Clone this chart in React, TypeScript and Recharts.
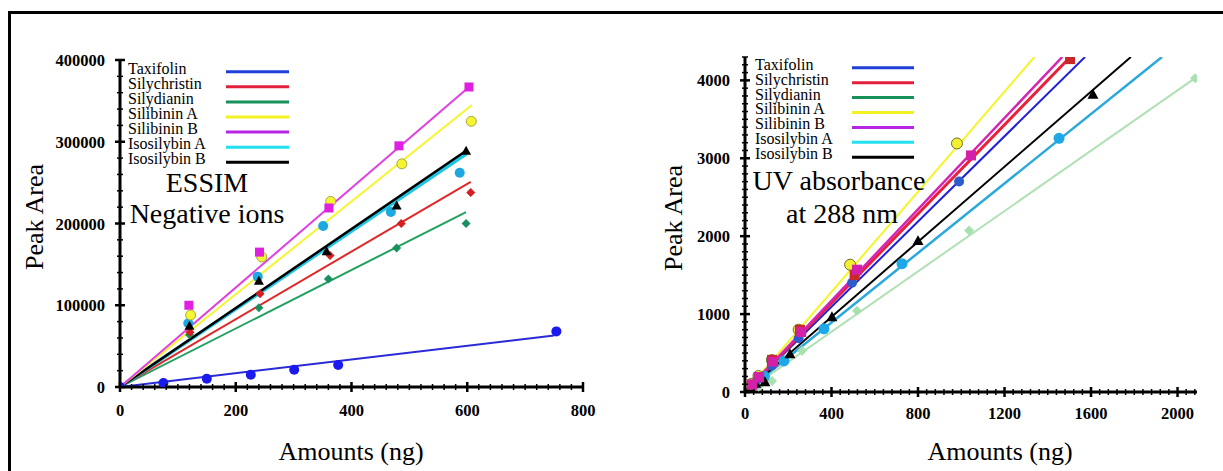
import { ComposedChart, Line, Scatter, XAxis, YAxis } from "recharts";

const FONT = "'Liberation Serif', 'DejaVu Serif', 'Noto Serif', serif";

const compounds = [
  "Taxifolin",
  "Silychristin",
  "Silydianin",
  "Silibinin A",
  "Silibinin B",
  "Isosilybin A",
  "Isosilybin B",
];
const legendColors = ["#1f3fd6", "#e3203c", "#17905a", "#f2f222", "#b526e6", "#22e0f0", "#000000"];

// ---- ESSIM, negative ions (left panel) ----
const msTaxifolinX = [0, 75, 150, 226, 301, 377, 754];
const msTaxifolinY = [0, 5000, 10000, 15000, 21000, 27000, 68000];
const msSilychristinX = [121, 242, 363, 486, 606];
const msSilychristinY = [67000, 114000, 161000, 200000, 238000];
const msSilydianinX = [120, 240, 360, 478, 598];
const msSilydianinY = [64000, 97000, 132000, 170000, 200000];
const msSilibininAX = [122, 245, 364, 487, 607];
const msSilibininAY = [88000, 159000, 227000, 273000, 325000];
const msSilibininBX = [119, 241, 361, 482, 603];
const msSilibininBY = [100000, 165000, 219000, 295000, 367000];
const msIsosilybinAX = [118, 238, 351, 468, 587];
const msIsosilybinAY = [78000, 135000, 197000, 214000, 262000];
const msIsosilybinBX = [120, 240, 357, 478, 598];
const msIsosilybinBY = [75000, 130000, 166000, 222000, 289000];

// fitted lines: [start, end]
const msFitX = [
  [0, 750],
  [0, 606],
  [0, 598],
  [0, 608],
  [0, 603],
  [0, 598],
  [0, 598],
];
const msFitY = [
  [0, 63000],
  [0, 251000],
  [0, 214000],
  [0, 345000],
  [0, 367000],
  [0, 285000],
  [0, 289000],
];

// ---- UV absorbance at 288 nm (right panel) ----
const uvTaxifolinX = [31, 62, 124, 248, 495, 990];
const uvTaxifolinY = [90, 170, 340, 690, 1403, 2703];
const uvSilychristinX = [31, 63, 125, 254, 507, 1503];
const uvSilychristinY = [95, 190, 412, 798, 1500, 4273];
const uvSilydianinX = [63, 125, 264, 518, 1036, 2081];
const uvSilydianinY = [70, 142, 528, 1043, 2072, 4028];
const uvSilibininAX = [31, 62, 124, 248, 486, 980];
const uvSilibininAY = [105, 205, 410, 800, 1634, 3190];
const uvSilibininBX = [33, 65, 130, 260, 518, 1045];
const uvSilibininBY = [95, 190, 390, 770, 1570, 3037];
const uvIsosilybinAX = [45, 90, 180, 365, 726, 1452];
const uvIsosilybinAY = [100, 200, 399, 811, 1647, 3256];
const uvIsosilybinBX = [25, 50, 92, 208, 402, 800, 1609];
const uvIsosilybinBY = [60, 110, 130, 489, 965, 1943, 3822];

const uvFitX = [
  [20, 1572],
  [20, 1504],
  [60, 2081],
  [20, 1338],
  [20, 1467],
  [20, 1928],
  [20, 1784],
];
const uvFitY = [
  [55, 4300],
  [57, 4300],
  [116, 4028],
  [64, 4300],
  [59, 4300],
  [45, 4300],
  [48, 4300],
];

// ticks
const msXMajor = [0, 200, 400, 600, 800];
const msYMajor = [0, 100000, 200000, 300000, 400000];
const uvXMajor = [0, 400, 800, 1200, 1600, 2000];
const uvYMajor = [0, 1000, 2000, 3000, 4000];

function minorTicks(max: number, step: number) {
  const out: number[] = [];
  for (let v = 0; v <= max; v += step) out.push(v);
  return out;
}

const toPts = (xs: number[], ys: number[]) => xs.map((x, i) => ({ x, y: ys[i] }));

type Kind = "circle" | "square" | "diamond" | "triangle";

interface SeriesDef {
  pts: { x: number; y: number }[];
  fit: { x: number; y: number }[];
  line: string;
  lineWidth: number;
  kind: Kind;
  fill: string;
  stroke?: string;
  r: number;
}

const msSeries: SeriesDef[] = [
  { pts: toPts(msTaxifolinX, msTaxifolinY), fit: toPts(msFitX[0], msFitY[0]), line: "#2a2ad8", lineWidth: 2, kind: "circle", fill: "#1a1aee", r: 5 },
  { pts: toPts(msSilydianinX, msSilydianinY), fit: toPts(msFitX[2], msFitY[2]), line: "#22a060", lineWidth: 2, kind: "diamond", fill: "#1a9060", r: 4.5 },
  { pts: toPts(msSilychristinX, msSilychristinY), fit: toPts(msFitX[1], msFitY[1]), line: "#e02828", lineWidth: 2, kind: "diamond", fill: "#d42020", r: 4.5 },
  { pts: toPts(msIsosilybinAX, msIsosilybinAY), fit: toPts(msFitX[5], msFitY[5]), line: "#20c4e4", lineWidth: 3.5, kind: "circle", fill: "#1ca8e0", r: 5 },
  { pts: toPts(msIsosilybinBX, msIsosilybinBY), fit: toPts(msFitX[6], msFitY[6]), line: "#000000", lineWidth: 2.5, kind: "triangle", fill: "#000000", r: 5 },
  { pts: toPts(msSilibininAX, msSilibininAY), fit: toPts(msFitX[3], msFitY[3]), line: "#f5f530", lineWidth: 2, kind: "circle", fill: "#f5f530", stroke: "#a8a840", r: 5 },
  { pts: toPts(msSilibininBX, msSilibininBY), fit: toPts(msFitX[4], msFitY[4]), line: "#e040e0", lineWidth: 2, kind: "square", fill: "#e020e0", r: 4.5 },
];

// yellow markers first so the other series sit on top of them near the origin
const uvSeries: SeriesDef[] = [
  { pts: toPts(uvSilibininAX, uvSilibininAY), fit: toPts(uvFitX[3], uvFitY[3]), line: "#f5f528", lineWidth: 2, kind: "circle", fill: "#f0f030", stroke: "#707030", r: 5.5 },
  { pts: toPts(uvSilydianinX, uvSilydianinY), fit: toPts(uvFitX[2], uvFitY[2]), line: "#b0e0b4", lineWidth: 2, kind: "diamond", fill: "#a8e0b0", r: 5 },
  { pts: toPts(uvIsosilybinAX, uvIsosilybinAY), fit: toPts(uvFitX[5], uvFitY[5]), line: "#2aa8dc", lineWidth: 2.5, kind: "circle", fill: "#1ea8e8", r: 5.5 },
  { pts: toPts(uvIsosilybinBX, uvIsosilybinBY), fit: toPts(uvFitX[6], uvFitY[6]), line: "#000000", lineWidth: 2, kind: "triangle", fill: "#000000", r: 5.5 },
  { pts: toPts(uvTaxifolinX, uvTaxifolinY), fit: toPts(uvFitX[0], uvFitY[0]), line: "#2020d8", lineWidth: 2, kind: "circle", fill: "#2e5ccc", r: 5 },
  { pts: toPts(uvSilychristinX, uvSilychristinY), fit: toPts(uvFitX[1], uvFitY[1]), line: "#e8203c", lineWidth: 3, kind: "square", fill: "#c82828", r: 5 },
  { pts: toPts(uvSilibininBX, uvSilibininBY), fit: toPts(uvFitX[4], uvFitY[4]), line: "#d424b4", lineWidth: 2.5, kind: "square", fill: "#d420a8", r: 5 },
];

function Marker(props: any) {
  const { cx, cy, kind, fill, stroke, r } = props;
  if (cx == null || cy == null) return <g />;
  const s = stroke || "none";
  if (kind === "square")
    return <rect x={cx - r} y={cy - r} width={2 * r} height={2 * r} fill={fill} stroke={s} />;
  if (kind === "diamond")
    return (
      <polygon
        points={`${cx},${cy - r} ${cx + r},${cy} ${cx},${cy + r} ${cx - r},${cy}`}
        fill={fill}
        stroke={s}
      />
    );
  if (kind === "triangle")
    return (
      <polygon
        points={`${cx},${cy - r} ${cx + r},${cy + r * 0.8} ${cx - r},${cy + r * 0.8}`}
        fill={fill}
        stroke={s}
      />
    );
  return <circle cx={cx} cy={cy} r={r} fill={fill} stroke={s} />;
}

function AxisTick(props: any) {
  const { x, y, payload, axis, major, labelGap } = props;
  const v = payload.value;
  const isMajor = major.includes(v);
  const len = isMajor ? 5 : 3;
  const w = isMajor ? 2.5 : 1.5;
  if (axis === "x") {
    return (
      <g>
        <line x1={x} x2={x} y1={y - len} y2={y + len} stroke="#000" strokeWidth={w} />
        {isMajor && (
          <text x={x} y={y + labelGap} textAnchor="middle" fill="#000" fontFamily={FONT} fontWeight={700} fontSize={16.5}>
            {v}
          </text>
        )}
      </g>
    );
  }
  return (
    <g>
      <line x1={x - len} x2={x + len} y1={y} y2={y} stroke="#000" strokeWidth={w} />
      {isMajor && (
        <text x={x - 15} y={y + 6} textAnchor="end" fill="#000" fontFamily={FONT} fontWeight={700} fontSize={16.5}>
          {v}
        </text>
      )}
    </g>
  );
}

function Panel({
  series,
  width,
  margin,
  xMax,
  yMax,
  xMajor,
  yMajor,
  xStep,
  yStep,
  labelGap,
}: {
  series: SeriesDef[];
  width: number;
  margin: { top: number; right: number; bottom: number; left: number };
  xMax: number;
  yMax: number;
  xMajor: number[];
  yMajor: number[];
  xStep: number;
  yStep: number;
  labelGap: number;
}) {
  return (
    <ComposedChart width={width} height={471} margin={margin}>
      <XAxis
        type="number"
        dataKey="x"
        domain={[0, xMax]}
        allowDataOverflow
        ticks={minorTicks(xMax, xStep)}
        interval={0}
        tickSize={0}
        tickMargin={0}
        height={30}
        axisLine={{ stroke: "#000", strokeWidth: 3 }}
        tick={(p: any) => <AxisTick {...p} axis="x" major={xMajor} labelGap={labelGap} />}
      />
      <YAxis
        type="number"
        dataKey="y"
        domain={[0, yMax]}
        allowDataOverflow
        ticks={minorTicks(yMax, yStep)}
        interval={0}
        tickSize={0}
        tickMargin={0}
        width={60}
        axisLine={{ stroke: "#000", strokeWidth: 3 }}
        tick={(p: any) => <AxisTick {...p} axis="y" major={yMajor} />}
      />
      {series.map((s, i) => (
        <Line
          key={`l${i}`}
          data={s.fit}
          dataKey="y"
          type="linear"
          stroke={s.line}
          strokeWidth={s.lineWidth}
          dot={false}
          activeDot={false}
          isAnimationActive={false}
        />
      ))}
      {series.map((s, i) => (
        <Scatter
          key={`s${i}`}
          data={s.pts}
          dataKey="y"
          isAnimationActive={false}
          shape={(p: any) => <Marker {...p} kind={s.kind} fill={s.fill} stroke={s.stroke} r={s.r} />}
        />
      ))}
    </ComposedChart>
  );
}

function LegendBlock({ textX, lineX1, lineX2, y0, dy }: { textX: number; lineX1: number; lineX2: number; y0: number; dy: number }) {
  return (
    <g>
      {compounds.map((c, i) => (
        <g key={c}>
          <text x={textX} y={y0 + i * dy + 2} fill="#000" fontFamily={FONT} fontSize={16}>
            {c}
          </text>
          <line x1={lineX1} x2={lineX2} y1={y0 + i * dy} y2={y0 + i * dy} stroke={legendColors[i]} strokeWidth={3} />
        </g>
      ))}
    </g>
  );
}

export default function App() {
  return (
    <div
      style={{
        position: "absolute",
        left: 0,
        top: 0,
        width: 1223,
        height: 471,
        overflow: "hidden",
        background: "#fff",
      }}
    >
      <div
        style={{
          position: "absolute",
          left: 8,
          top: 11,
          width: 1240,
          height: 490,
          border: "3px solid #000",
          boxSizing: "border-box",
        }}
      />
      <div style={{ position: "absolute", left: 0, top: 0 }}>
        <Panel
          series={msSeries}
          width={610}
          margin={{ top: 60, right: 27, bottom: 54, left: 60 }}
          xMax={800}
          yMax={400000}
          xMajor={msXMajor}
          yMajor={msYMajor}
          xStep={20}
          yStep={20000}
          labelGap={29}
        />
      </div>
      <div style={{ position: "absolute", left: 620, top: 0 }}>
        <Panel
          series={uvSeries}
          width={603}
          margin={{ top: 57, right: 26, bottom: 49, left: 65 }}
          xMax={2090}
          yMax={4300}
          xMajor={uvXMajor}
          yMajor={uvYMajor}
          xStep={40}
          yStep={100}
          labelGap={27}
        />
      </div>
      <svg
        width={1223}
        height={471}
        style={{ position: "absolute", left: 0, top: 0, pointerEvents: "none" }}
      >
        <LegendBlock textX={128} lineX1={226} lineX2={289} y0={71.7} dy={15.1} />
        <LegendBlock textX={755} lineX1={852} lineX2={914} y0={67.7} dy={14.93} />
        <g fontFamily={FONT} fontSize={28} fill="#000">
          <text x={207} y={192} textAnchor="middle">ESSIM</text>
          <text x={207} y={223} textAnchor="middle">Negative ions</text>
          <text x={839} y={190} textAnchor="middle">UV absorbance</text>
          <text x={842} y={223} textAnchor="middle">at 288 nm</text>
        </g>
        <g fontFamily={FONT} fontSize={26} fill="#000">
          <text transform="translate(43,217) rotate(-90)" textAnchor="middle">Peak Area</text>
          <text transform="translate(682,218) rotate(-90)" textAnchor="middle">Peak Area</text>
          <text x={351} y={460} textAnchor="middle">Amounts (ng)</text>
          <text x={1000} y={460} textAnchor="middle">Amounts (ng)</text>
        </g>
      </svg>
    </div>
  );
}
